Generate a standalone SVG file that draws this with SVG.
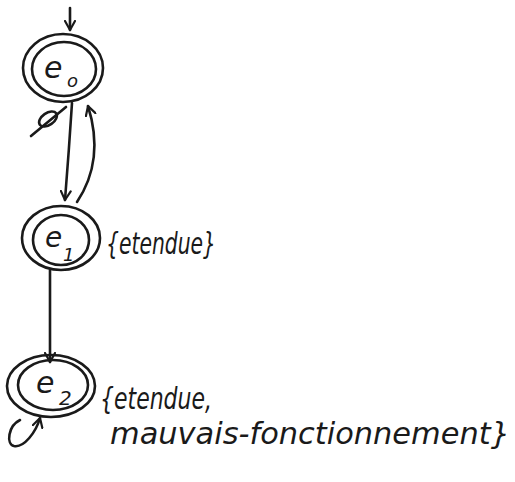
<svg xmlns="http://www.w3.org/2000/svg" width="515" height="482" viewBox="0 0 515 482">
<defs>
<style>
.s{fill:none;stroke:#1a1a1a;stroke-width:2.6;stroke-linecap:round;stroke-linejoin:round}
.t{font-family:"DejaVu Sans","Liberation Sans",sans-serif;font-style:italic;fill:#1a1a1a}
</style>
<marker id="ah" viewBox="0 0 12 12" refX="10" refY="6" markerWidth="12" markerHeight="12" markerUnits="userSpaceOnUse" orient="auto">
<path d="M1,1 L10,6 L1,11" fill="none" stroke="#1a1a1a" stroke-width="2.2" stroke-linecap="round" stroke-linejoin="round"/>
</marker>
</defs>
<rect width="515" height="482" fill="#fff"/>
<g id="connectors">
<path class="s" d="M70,8 L70,30" marker-end="url(#ah)"/>
<path class="s" d="M72,103 Q69,150 65,200" marker-end="url(#ah)"/>
<path class="s" d="M77,202 Q105,160 88,106" marker-end="url(#ah)"/>
<path class="s" d="M50,270 L50,362" marker-end="url(#ah)"/>
<path class="s" d="M20,420 C8,426 6,444 14,446 C24,448 36,432 40,418" marker-end="url(#ah)"/>
<g id="label-empty">
<ellipse class="s" cx="48" cy="119" rx="10" ry="6" transform="rotate(-35 48 119)"/>
<path class="s" d="M31,136 L66,107"/>
</g>
</g>
<g id="e0">
<ellipse class="s" cx="63" cy="68" rx="40" ry="34"/>
<ellipse class="s" cx="64" cy="69" rx="32" ry="27"/>
<text class="t" x="44" y="78" font-size="30">e</text>
<text class="t" x="67" y="87" font-size="18">o</text>
</g>
<g id="e1">
<ellipse class="s" cx="61" cy="238" rx="39" ry="32"/>
<ellipse class="s" cx="61" cy="240" rx="28" ry="25"/>
<text class="t" x="45" y="247" font-size="28">e</text>
<text class="t" x="63" y="261" font-size="18">1</text>
<text class="t" x="106" y="254" font-size="30" textLength="110" lengthAdjust="spacingAndGlyphs">{etendue}</text>
</g>
<g id="e2">
<ellipse class="s" cx="51" cy="386" rx="44" ry="31"/>
<ellipse class="s" cx="53" cy="385" rx="35" ry="25"/>
<text class="t" x="36" y="393" font-size="30">e</text>
<text class="t" x="59" y="405" font-size="20">2</text>
<text class="t" x="100" y="409" font-size="30" textLength="112" lengthAdjust="spacingAndGlyphs">{etendue,</text>
<text class="t" x="110" y="444" font-size="30" textLength="400" lengthAdjust="spacingAndGlyphs">mauvais-fonctionnement}</text>
</g>
</svg>
